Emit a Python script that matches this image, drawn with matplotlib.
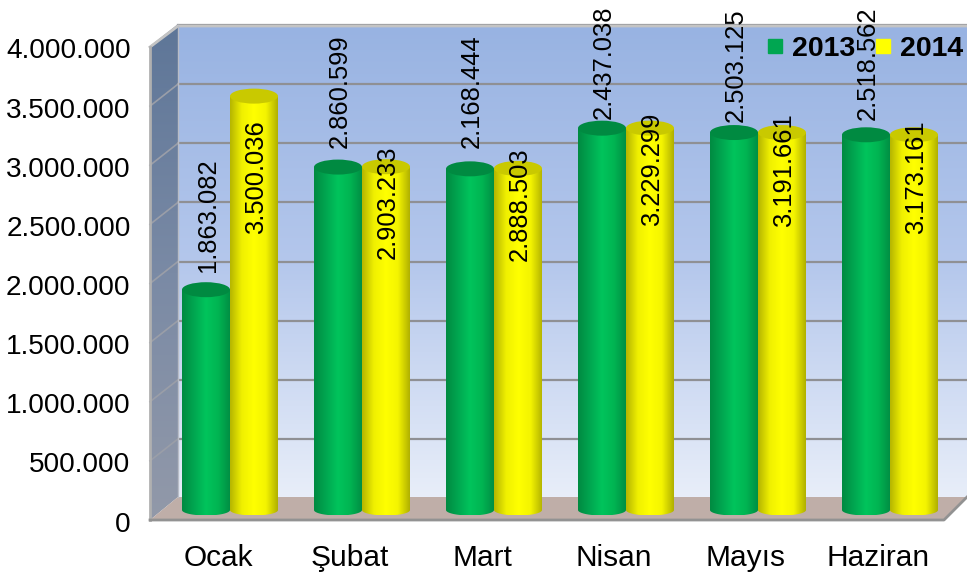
import matplotlib
matplotlib.use("Agg")
import matplotlib.pyplot as plt
import numpy as np
from matplotlib.colors import LinearSegmentedColormap
from matplotlib.lines import Line2D
from matplotlib.patches import Ellipse, PathPatch, Polygon
from matplotlib.path import Path
from matplotlib.ticker import FuncFormatter
from matplotlib.transforms import ScaledTranslation

plt.rcParams['font.family'] = ['Liberation Sans', 'DejaVu Sans']

# data
months = ["Ocak", "Şubat", "Mart", "Nisan", "Mayıs", "Haziran"]
bars_2013 = [1863082, 2900000, 2885000, 3229000, 3192000, 3173000]
bars_2014 = [3500036, 2903233, 2888503, 3229299, 3191661, 3173161]
labels_2013 = ["1.863.082", "2.860.599", "2.168.444", "2.437.038", "2.503.125", "2.518.562"]
labels_2014 = ["3.500.036", "2.903.233", "2.888.503", "3.229.299", "3.191.661", "3.173.161"]
y_ticks = [0, 500000, 1000000, 1500000, 2000000, 2500000, 3000000, 3500000, 4000000]

# label offsets from the bar top in pixels, these were placed by hand in the original
gap_2013 = [18, 19, 21, 9, 11, 15]
drop_2014 = [138, 92, 93, 98, 94, 99]

W, H = 967, 573
LEFT, ZERO, TOP = 150, 520, 47
px_per_val = (ZERO - TOP) / 4000000
DX, DY = 28, 22

fig = plt.figure(figsize=(W / 100, H / 100), dpi=100)

# background box, pixel coordinates
bg = fig.add_axes([0, 0, 1, 1], zorder=0)


def gradient(ax, colors, extent, clip, transform=None, horizontal=False):
    cmap = LinearSegmentedColormap.from_list("g", colors)
    grad = np.linspace(0, 1, 256)
    grad = grad.reshape(1, -1) if horizontal else grad.reshape(-1, 1)
    im = ax.imshow(grad, cmap=cmap, extent=extent, aspect="auto", origin="upper", zorder=1)
    if transform is not None:
        im.set_transform(transform)
    clip.set_facecolor("none")
    clip.set_edgecolor("none")
    ax.add_patch(clip)
    im.set_clip_path(clip)
    return im


wall_top, wall_bot = TOP - DY + 1, ZERO - DY - 1
wall = Polygon([(LEFT + DX, wall_top), (W, wall_top), (W, wall_bot), (LEFT + DX, wall_bot)])
gradient(bg, ["#98b3e2", "#b4c7ec", "#e8eef9"], (LEFT + DX, W, wall_bot, wall_top), wall)

side = Polygon([(LEFT, TOP), (LEFT + DX, wall_top), (LEFT + DX, wall_bot), (LEFT, ZERO)])
gradient(bg, ["#5e7698", "#7a8aa5", "#9299a9"], (LEFT, LEFT + DX, ZERO, wall_top), side)

floor = Polygon([(LEFT, ZERO), (LEFT + DX, wall_bot), (W, wall_bot), (W - 23, ZERO)],
                facecolor="#bfaea8", edgecolor="none", zorder=2)
bg.add_patch(floor)

for t in y_ticks[1:]:
    y = ZERO - t * px_per_val
    bg.plot([LEFT + DX, W], [y - DY, y - DY], color="#8f9094", lw=1.6, zorder=3)
    bg.plot([LEFT, LEFT + DX], [y, y - DY], color="#9a9ea8", lw=1.2, zorder=3)

bg.plot([LEFT, LEFT + DX, W], [TOP, wall_top, wall_top], color="#c4c4c4", lw=2, zorder=3)
bg.plot([LEFT, LEFT], [TOP, ZERO], color="#b0b0b0", lw=2, zorder=3)
bg.plot([LEFT + DX, LEFT + DX], [wall_top, wall_bot], color="#b8bcc6", lw=1, zorder=3)
bg.plot([LEFT, W - 23, W], [ZERO, ZERO, wall_bot], color="#929292", lw=2, zorder=3)

bg.set_xlim(0, W)
bg.set_ylim(H, 0)
bg.axis("off")

# main axes, front plane of the box
ax = fig.add_axes([LEFT / W, (H - ZERO) / H, (W - LEFT) / W, (ZERO - TOP) / H], zorder=1)
ax.patch.set_visible(False)
x = np.arange(len(months))
spacing = 132.0
ax.set_xlim((LEFT - 218) / spacing, (W - 218) / spacing)
ax.set_ylim(0, 4000000)

# bars stand further back than the axis plane
depth = ax.transData + ScaledTranslation(12 / 100, 10 / 100, fig.dpi_scale_trans)

bar_w = 48 / spacing
ell_h = 7.5 / px_per_val
foot_h = 5.5 / px_per_val
green_body = ["#008a41", "#00a650", "#00c45c", "#00b552", "#008f44"]
yellow_body = ["#b5b500", "#f0f000", "#ffff00", "#f4f400", "#b0b000"]


def cylinder(xc, val, body, top_col, z):
    t = np.linspace(0, np.pi, 40)
    hw = bar_w / 2
    pts = [(xc - hw, val), (xc + hw, val)]
    pts += list(zip(xc + hw * np.cos(t), -foot_h * np.sin(t)))
    path = Path(pts + [pts[0]], closed=True)
    clip = PathPatch(path, transform=depth)
    im = gradient(ax, body, (xc - hw, xc + hw, -foot_h, val), clip, transform=depth, horizontal=True)
    im.set_zorder(z)
    ax.add_patch(Ellipse((xc, val), bar_w, 2 * ell_h, facecolor=top_col, edgecolor="none",
                         transform=depth, zorder=z + 0.1))


for i in x:
    cylinder(i - bar_w / 2, bars_2013[i], green_body, "#008a41", 2 + i * 0.01)
    cylinder(i + bar_w / 2, bars_2014[i], yellow_body, "#c9c900", 3 + i * 0.01)

for i in x:
    ax.annotate(labels_2013[i], (i - bar_w / 2, bars_2013[i]), xycoords=depth,
                xytext=(1.4, gap_2013[i] * 0.72), textcoords="offset points",
                rotation=90, ha="center", va="bottom", fontsize=18.4, color="black",
                annotation_clip=False, zorder=7)
    ax.annotate(labels_2014[i], (i + bar_w / 2, bars_2014[i]), xycoords=depth,
                xytext=(1.4, -drop_2014[i] * 0.72), textcoords="offset points",
                rotation=90, ha="center", va="bottom", fontsize=18.4, color="black",
                annotation_clip=False, zorder=7)

ax.set_xticks(x)
ax.set_xticklabels(months, fontsize=21.5)
ax.set_yticks(y_ticks)
ax.yaxis.set_major_formatter(FuncFormatter(lambda v, p: f"{int(v):,}".replace(",", ".")))
ax.tick_params(axis="y", length=0, pad=14, labelsize=20.2)
ax.tick_params(axis="x", length=0, pad=17)
for s in ax.spines.values():
    s.set_visible(False)
ax.set_xlim((LEFT - 218) / spacing, (W - 218) / spacing)
ax.set_ylim(0, 4000000)

# tick labels sit a little lower in the reference
nudge = ScaledTranslation(0, -1.5 / 100, fig.dpi_scale_trans)
for lab in ax.get_yticklabels():
    lab.set_transform(lab.get_transform() + nudge)

handles = [Line2D([], [], ls="none", marker="s", ms=10.5, color="#00a651", label="2013"),
           Line2D([], [], ls="none", marker="s", ms=10.5, color="#ffff00", label="2014")]
leg = ax.legend(handles=handles, ncol=2, frameon=False, loc="center right",
                bbox_to_anchor=((W - 4 - LEFT) / (W - LEFT), (ZERO - 49) / (ZERO - TOP)),
                prop={"weight": "bold", "size": 20.5}, handlelength=0.6,
                handletextpad=0.3, columnspacing=0.65, borderaxespad=0, borderpad=0)
leg.set_zorder(5)

fig.savefig("out.png", dpi=100)
